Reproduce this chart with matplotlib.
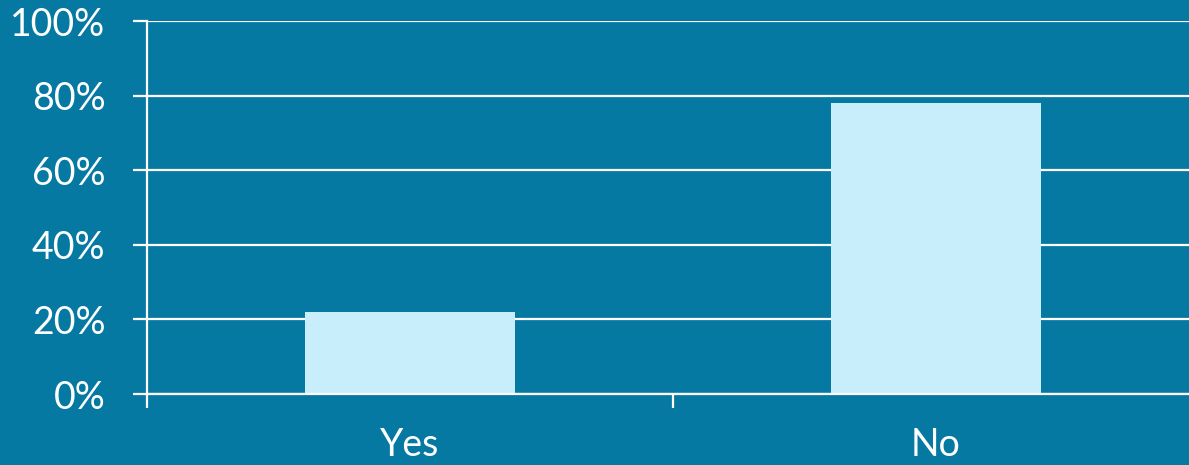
import matplotlib
matplotlib.use("Agg")
import matplotlib.pyplot as plt
from matplotlib.ticker import FixedLocator, FixedFormatter

categories = ["Yes", "No"]
shares = [22, 78]
y_ticks = [0, 20, 40, 60, 80, 100]
y_tick_labels = ["0%", "20%", "40%", "60%", "80%", "100%"]

bg = "#0679A3"
bar_color = "#C8EEFC"
white = "#FFFFFF"

plt.rcParams["font.family"] = ["Lato", "DejaVu Sans"]

fig = plt.figure(figsize=(11.89, 4.65), dpi=100, facecolor=bg)
W, H = 1189, 465
ax = fig.add_axes([147 / W, 71 / H, 1052 / W, 373 / H])
ax.set_facecolor(bg)

x = list(range(len(categories)))
ax.bar(x, shares, width=0.4, color=bar_color, zorder=3)

ax.set_xlim(-0.5, len(categories) - 0.5)
ax.set_ylim(0, 100)

ax.set_yticks(y_ticks)
ax.set_yticklabels(y_tick_labels)
ax.yaxis.grid(True, color=white, linewidth=1.6, zorder=1)
ax.set_axisbelow(True)

# boundary tick marks between categories, labels centred on bars
ax.xaxis.set_major_locator(FixedLocator([i - 0.5 for i in range(len(categories) + 1)]))
ax.xaxis.set_major_formatter(FixedFormatter([""] * (len(categories) + 1)))
ax.xaxis.set_minor_locator(FixedLocator(x))
ax.xaxis.set_minor_formatter(FixedFormatter(categories))

ax.tick_params(axis="x", which="major", length=10, width=1.6, color=white)
ax.tick_params(axis="x", which="minor", length=0, pad=24, labelsize=27, labelcolor=white)
ax.tick_params(axis="y", length=10, width=1.6, color=white, pad=20,
               labelsize=27, labelcolor=white)

for side in ["top", "right"]:
    ax.spines[side].set_visible(False)
for side in ["left", "bottom"]:
    ax.spines[side].set_color(white)
    ax.spines[side].set_linewidth(1.6)
    ax.spines[side].set_zorder(4)

fig.savefig("out.png", dpi=100, facecolor=bg)
